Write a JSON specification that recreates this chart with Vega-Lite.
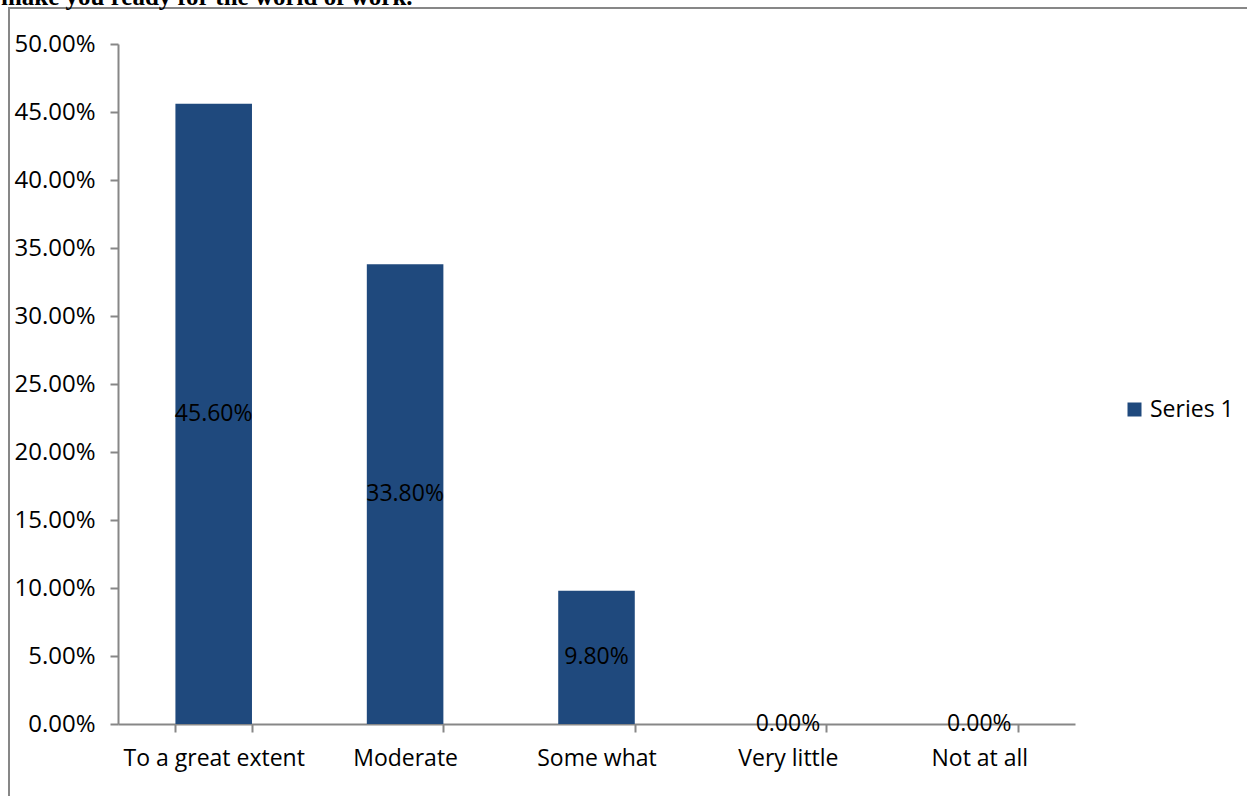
{
  "$schema": "https://vega.github.io/schema/vega-lite/v6.json",
  "width": 1238,
  "height": 788,
  "autosize": {"type": "none"},
  "padding": {"left": 9, "top": 8, "right": 0, "bottom": 0},
  "background": "white",
  "title": {
    "text": "make you ready for the world of work.",
    "anchor": "start",
    "frame": "group",
    "font": "Liberation Serif",
    "fontSize": 25,
    "fontWeight": "bold",
    "color": "black",
    "baseline": "alphabetic",
    "offset": 3,
    "dx": -8,
    "dy": 25
  },
  "config": {
    "view": {"stroke": "#878787", "strokeWidth": 2, "strokeDash": [1238, 2026, 788]},
    "font": "Open Sans"
  },
  "data": {
    "values": [
      {"category": "To a great extent", "value": 0.456, "series": "Series 1"},
      {"category": "Moderate", "value": 0.338, "series": "Series 1"},
      {"category": "Some what", "value": 0.098, "series": "Series 1"},
      {"category": "Very little", "value": 0.0, "series": "Series 1"},
      {"category": "Not at all", "value": 0.0, "series": "Series 1"}
    ]
  },
  "encoding": {
    "x": {
      "field": "category",
      "type": "nominal",
      "sort": null,
      "scale": {"range": [109, 1066], "paddingInner": 0.6, "paddingOuter": 0.3},
      "axis": {
        "orient": "bottom",
        "offset": -72,
        "title": null,
        "labelAngle": 0,
        "labelFont": "Open Sans",
        "labelFontSize": 23,
        "labelColor": "black",
        "labelPadding": 15,
        "labelLimit": 0,
        "tickBand": "extent",
        "tickSize": 8,
        "tickColor": "#878787",
        "tickWidth": 2,
        "domainColor": "#878787",
        "domainWidth": 2
      }
    }
  },
  "layer": [
    {
      "mark": {"type": "bar"},
      "encoding": {
        "y": {
          "field": "value",
          "type": "quantitative",
          "scale": {"domain": [0, 0.5], "range": [716, 36], "nice": false, "zero": true},
          "axis": {
            "orient": "left",
            "offset": -109,
            "title": null,
            "grid": false,
            "values": [0, 0.05, 0.1, 0.15, 0.2, 0.25, 0.3, 0.35, 0.4, 0.45, 0.5],
            "format": ".2%",
            "labelFont": "Open Sans",
            "labelFontSize": 24,
            "labelColor": "black",
            "labelPadding": 15,
            "tickSize": 8,
            "tickColor": "#878787",
            "tickWidth": 2,
            "domainColor": "#878787",
            "domainWidth": 2
          }
        },
        "color": {
          "field": "series",
          "type": "nominal",
          "scale": {"range": ["#1F497D"]},
          "legend": {
            "title": null,
            "orient": "none",
            "legendX": 1114,
            "legendY": 390,
            "symbolType": "square",
            "symbolSize": 196,
            "symbolStrokeWidth": 0,
            "labelFont": "Open Sans",
            "labelFontSize": 23,
            "labelColor": "black",
            "labelOffset": 4
          }
        }
      }
    },
    {
      "mark": {"type": "text", "fontSize": 23, "font": "Open Sans", "color": "black", "baseline": "middle", "align": "center"},
      "encoding": {
        "y": {
          "field": "value",
          "type": "quantitative",
          "scale": {"domain": [0, 1], "range": [716, 36], "nice": false, "zero": true},
          "axis": null
        },
        "text": {"field": "value", "type": "quantitative", "format": ".2%"}
      }
    }
  ],
  "resolve": {"scale": {"y": "independent"}}
}
